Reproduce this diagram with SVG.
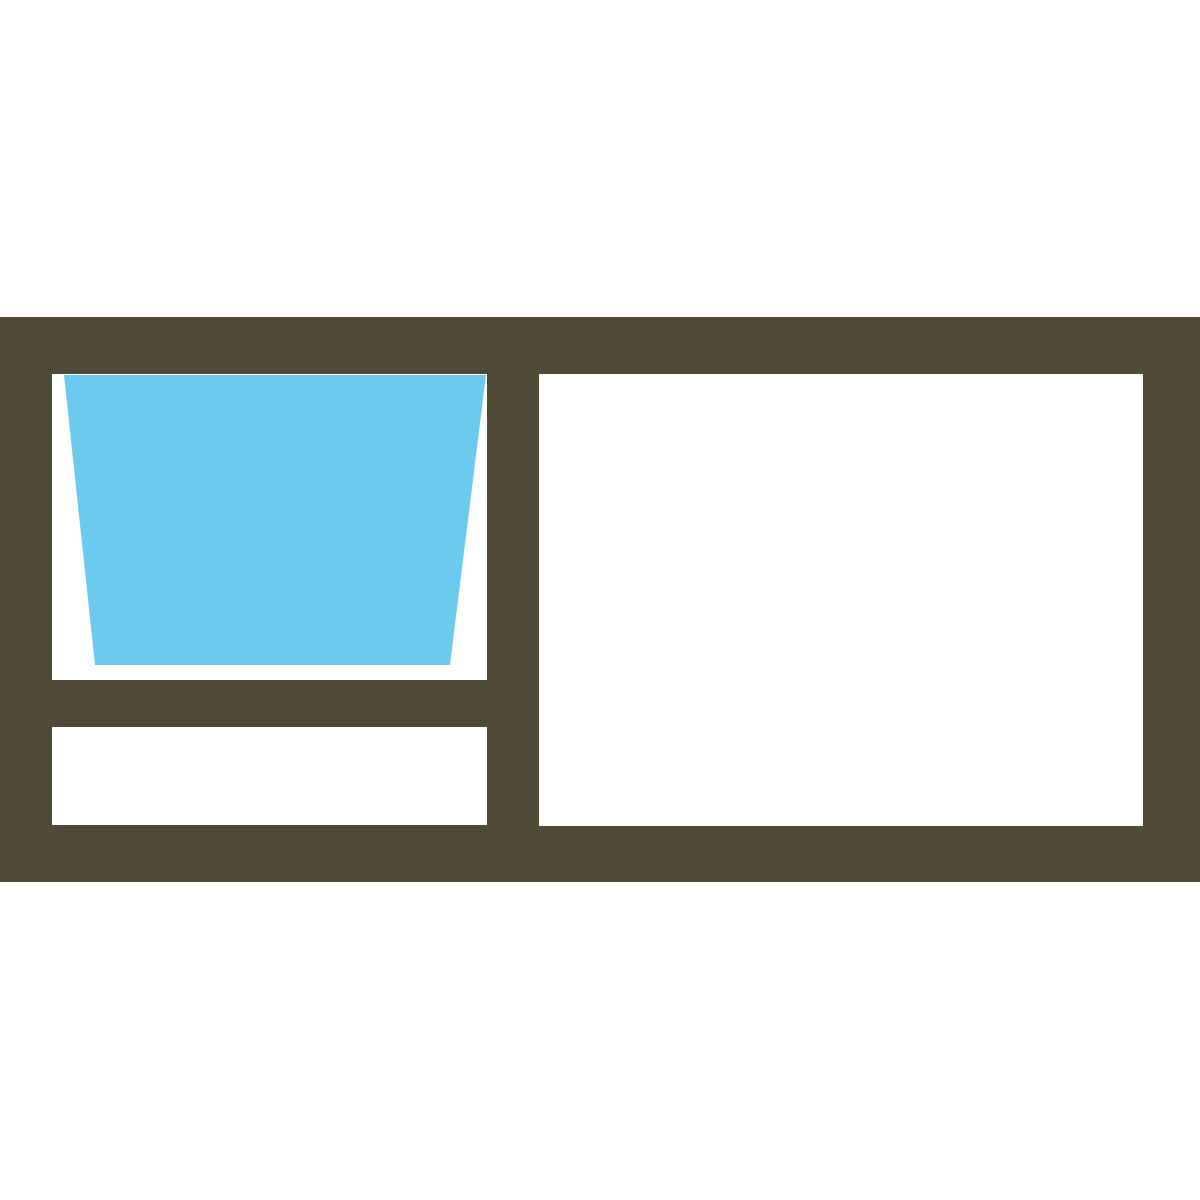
<svg xmlns="http://www.w3.org/2000/svg" width="1200" height="1200" viewBox="0 0 1200 1200">
<style>.frame{fill:#4f4938;fill-rule:evenodd}.glass{fill:#6dcaef}</style>
<rect width="1200" height="1200" fill="#ffffff"/>
<g id="frame">
<path class="frame" d="M0 317H1200V882H0Z M52 374V680H487V374Z M52 727V825H487V727Z M539 374V826H1143V374Z"/>
</g>
<g id="sash">
<polygon class="glass" points="64,375 486,375 450,665 95,665"/>
</g>
</svg>
